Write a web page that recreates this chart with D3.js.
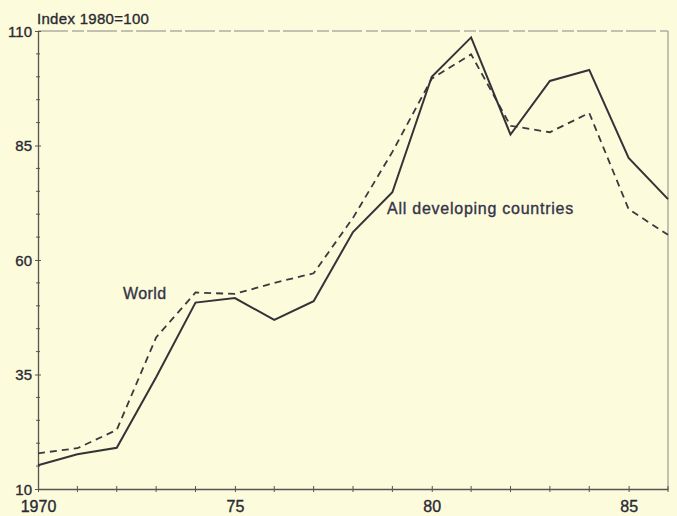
<!DOCTYPE html>
<html><head><meta charset="utf-8">
<script src="https://cdn.jsdelivr.net/npm/d3@7"></script>
<style>
html,body{margin:0;padding:0;background:#fcfbdb;}
svg{display:block;font-family:"Liberation Sans",Arial,sans-serif;}
</style></head>
<body>
<script>
const years = [1970,1971,1972,1973,1974,1975,1976,1977,1978,1979,1980,1981,1982,1983,1984,1985,1986];
const developing = [15.2,17.6,19.0,34.4,50.7,51.7,46.9,51.0,66.1,74.8,100.0,108.6,87.4,99.1,101.5,82.3,73.3];
const world = [17.8,18.9,22.9,43.1,52.9,52.6,55.0,57.1,69.2,83.6,99.6,104.9,89.3,87.9,92.1,71.1,65.5];
const yTicks = [10,35,60,85,110];
const xTicks = [1970,1975,1980,1985];
const xTickLabels = ["1970","75","80","85"];

const W = 677, H = 516;
const m = {left:38, right:9, top:31, bottom:27};
const svg = d3.select("body").append("svg").attr("width",W).attr("height",H);
svg.append("rect").attr("width",W).attr("height",H).attr("fill","#fcfbdb");

const x = d3.scaleLinear().domain([1970,1986]).range([m.left, W-m.right]);
const y = d3.scaleLinear().domain([10,110]).range([H-m.bottom, m.top]);
const axisCol = "#555";
const textCol = "#2a2a33";

// frame top and right
svg.append("line").attr("x1",x(1970)).attr("x2",x(1986)).attr("y1",y(110)).attr("y2",y(110))
  .attr("stroke","#888").attr("stroke-width",1).attr("stroke-dasharray","30,4,12,3");
svg.append("line").attr("x1",x(1986)).attr("x2",x(1986)).attr("y1",y(110)).attr("y2",y(10))
  .attr("stroke","#999").attr("stroke-width",1.2);

// minor ticks
const minorY = d3.range(15,110,5).filter(v=>!yTicks.includes(v));
svg.append("g").selectAll("line").data(minorY).join("line")
  .attr("x1",x(1970)-2).attr("x2",x(1970)+2).attr("y1",d=>y(d)).attr("y2",d=>y(d))
  .attr("stroke",axisCol).attr("stroke-width",1);
svg.append("g").selectAll("line").data(years.filter(v=>!xTicks.includes(v))).join("line")
  .attr("x1",d=>x(d)).attr("x2",d=>x(d)).attr("y1",y(10)-3).attr("y2",y(10)+3)
  .attr("stroke",axisCol).attr("stroke-width",1);

// y axis
const yAxis = d3.axisLeft(y).tickValues(yTicks).tickSize(4).tickSizeOuter(0);
const gy = svg.append("g").attr("transform",`translate(${x(1970)},0)`).call(yAxis);
gy.select(".domain").attr("stroke",axisCol).attr("stroke-width",1.3);
gy.selectAll(".tick line").attr("stroke",axisCol).attr("x2",-3).attr("x1",3);
gy.selectAll(".tick text").attr("font-size",15).attr("fill",textCol).attr("x",-6)
  .attr("stroke",textCol).attr("stroke-width",0.35).attr("dy","0.36em");

// x axis
const xAxis = d3.axisBottom(x).tickValues(xTicks).tickFormat((d,i)=>xTickLabels[i]).tickSize(4).tickSizeOuter(0);
const gx = svg.append("g").attr("transform",`translate(0,${y(10)})`).call(xAxis);
gx.select(".domain").attr("stroke",axisCol).attr("stroke-width",1.3);
gx.selectAll(".tick line").attr("stroke",axisCol).attr("y1",-3).attr("y2",3);
gx.selectAll(".tick text").attr("font-size",16).attr("fill",textCol).attr("y",12)
  .attr("stroke",textCol).attr("stroke-width",0.35);

// lines
const line = d3.line().x((d,i)=>x(years[i])).y(d=>y(d));
svg.append("path").datum(world).attr("d",line).attr("fill","none")
  .attr("stroke","#3a3a3e").attr("stroke-width",1.8).attr("stroke-dasharray","7,5");
svg.append("path").datum(developing).attr("d",line).attr("fill","none")
  .attr("stroke","#333338").attr("stroke-width",2);

// labels
const lab = (t,xx,yy,fs,ls,col)=>svg.append("text").attr("x",xx).attr("y",yy).attr("font-size",fs)
  .attr("letter-spacing",ls).attr("fill",col).attr("stroke",col).attr("stroke-width",0.35).text(t);
lab("Index 1980=100",37,24,15,0.3,textCol);
lab("World",123,299,16,0.4,"#343448");
lab("All developing countries",387,214,16,0.75,"#343448");
</script>
</body></html>
